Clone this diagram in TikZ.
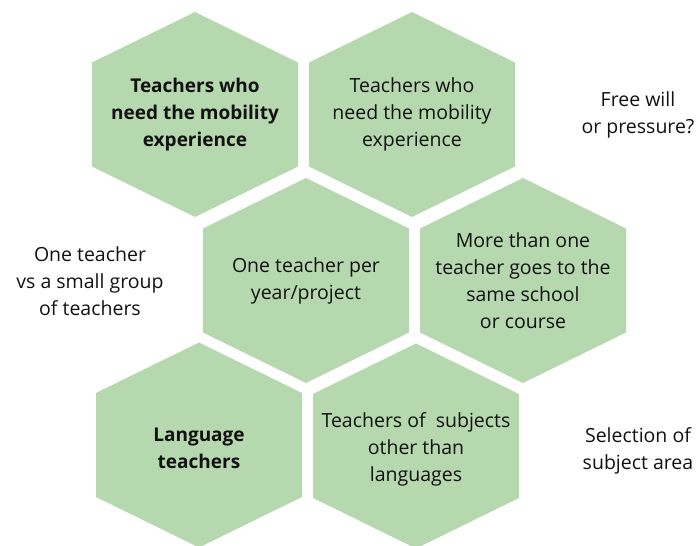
\documentclass[tikz,border=0pt]{standalone}
\usepackage{fontspec}
\setmainfont{Open Sans}
\usepackage{tikz}
\usetikzlibrary{backgrounds}
\definecolor{HexGreen}{HTML}{B6D8AE}
\definecolor{HexText}{HTML}{111111}

\begin{document}
\begin{tikzpicture}[x=1pt, y=1pt,
    hextext/.style={align=center, text=HexText, font=\fontsize{19.5}{27}\selectfont},
    hexbold/.style={hextext, font=\fontsize{19}{27}\selectfont\bfseries},
    hexcell/.style={fill=HexGreen}]
  \useasboundingbox (0,0) rectangle (697,546);

  % hexagon texts
  \node[hexbold] (needbold) at (195,431.5) {Teachers who\\need the mobility\\experience};
  \node[hextext] (needplain) at (412,431.5) {Teachers who\\need the mobility\\experience};
  \node[hextext] (onepyear) at (306,265.5) {One teacher per\\year/project};
  \node[hextext] (morethan) at (523,265.5) {More than one\\teacher goes to the\\same school\\or course};
  \node[hexbold] (langteach) at (199,98) {Language\\teachers};
  \node[hextext] (othersubj) at (416,97) {Teachers of~ subjects\\other than\\languages};

  % side remarks
  \node[hextext] (freewill) at (638,431.5) {Free will\\or pressure?};
  \node[hextext] (onevsgroup) at (90,264.5) {One teacher\\vs a small group\\of teachers};
  \node[hextext] (subjarea) at (638,95) {Selection of\\subject area};

  \begin{scope}[on background layer]
    \foreach \cell in {needbold, needplain, onepyear, morethan}
      \fill[hexcell] (\cell.center) ++(0,102.5) -- ++(103,-50.5) -- ++(0,-104)
        -- ++(-103,-50.5) -- ++(-103,50.5) -- ++(0,104) -- cycle;
    \foreach \cell in {langteach, othersubj}
      \fill[hexcell] (\cell.center) ++(0,105.5) -- ++(103,-50.5) -- ++(0,-104)
        -- ++(-103,-50.5) -- ++(-103,50.5) -- ++(0,104) -- cycle;
  \end{scope}
\end{tikzpicture}
\end{document}
